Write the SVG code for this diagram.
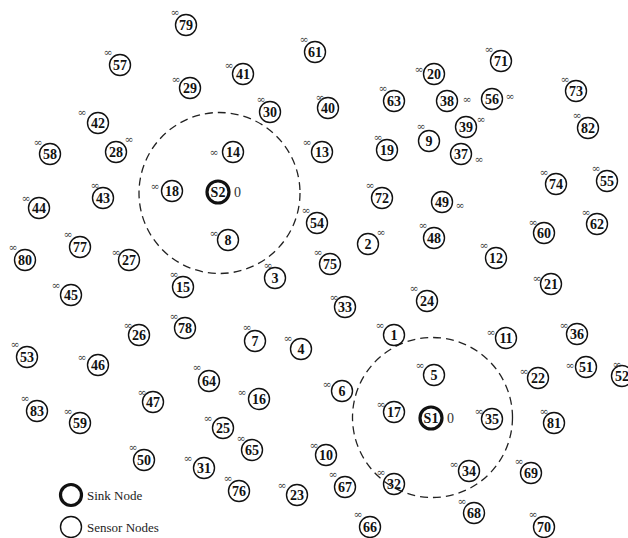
<svg xmlns="http://www.w3.org/2000/svg" width="628" height="538" viewBox="0 0 628 538">
<style>
.n circle{fill:none;stroke:#111;stroke-width:1.4}
.s circle{fill:none;stroke:#111;stroke-width:3.2}
.n text,.s text{font-family:"Liberation Serif","Times New Roman",serif;font-weight:bold;font-size:14px;fill:#111;text-anchor:middle}
text.i{font-family:"DejaVu Serif","DejaVu Sans",serif;font-weight:normal;font-size:11px;fill:#444;text-anchor:middle}
text.z{font-family:"Liberation Serif",serif;font-weight:normal;font-size:14px;fill:#333;text-anchor:start}
.range{fill:none;stroke:#222;stroke-width:1.3;stroke-dasharray:8 5}
.leg{font-family:"Liberation Serif","Times New Roman",serif;font-size:13px;fill:#222}
</style>
<rect width="628" height="538" fill="#fff"/>
<g id="connectors">
<circle class="range" cx="219.5" cy="193" r="80.5"/>
<circle class="range" cx="432.5" cy="417.5" r="80"/>
</g>
<g id="sinkS2" class="s" transform="translate(218,192)"><circle r="11"/><text y="5">S2</text><text class="z" x="16" y="5">0</text></g>
<g id="sinkS1" class="s" transform="translate(431,418)"><circle r="11"/><text y="5">S1</text><text class="z" x="16" y="5">0</text></g>
<g id="n79" class="n" transform="translate(186,25)"><circle r="10.5"/><text y="5">79</text><text class="i" x="-11" y="-9.5">∞</text></g>
<g id="n57" class="n" transform="translate(120,65)"><circle r="10.5"/><text y="5">57</text><text class="i" x="-12" y="-9.5">∞</text></g>
<g id="n61" class="n" transform="translate(315,52)"><circle r="10.5"/><text y="5">61</text><text class="i" x="-11" y="-9.5">∞</text></g>
<g id="n41" class="n" transform="translate(243,74)"><circle r="10.5"/><text y="5">41</text><text class="i" x="-14" y="-5.5">∞</text></g>
<g id="n29" class="n" transform="translate(190,88)"><circle r="10.5"/><text y="5">29</text><text class="i" x="-14" y="-5.5">∞</text></g>
<g id="n30" class="n" transform="translate(270,112)"><circle r="10.5"/><text y="5">30</text><text class="i" x="-9" y="-9.5">∞</text></g>
<g id="n40" class="n" transform="translate(328,108)"><circle r="10.5"/><text y="5">40</text><text class="i" x="-8" y="-7.5">∞</text></g>
<g id="n42" class="n" transform="translate(98,123)"><circle r="10.5"/><text y="5">42</text><text class="i" x="-16" y="-7.5">∞</text></g>
<g id="n28" class="n" transform="translate(116,152)"><circle r="10.5"/><text y="5">28</text><text class="i" x="13" y="-9.5">∞</text></g>
<g id="n58" class="n" transform="translate(50,154)"><circle r="10.5"/><text y="5">58</text><text class="i" x="-12" y="-8.5">∞</text></g>
<g id="n14" class="n" transform="translate(233,152)"><circle r="10.5"/><text y="5">14</text><text class="i" x="-19" y="3.5">∞</text></g>
<g id="n13" class="n" transform="translate(322,152)"><circle r="10.5"/><text y="5">13</text><text class="i" x="-15" y="-6.5">∞</text></g>
<g id="n63" class="n" transform="translate(394,101)"><circle r="10.5"/><text y="5">63</text><text class="i" x="-11" y="-9.5">∞</text></g>
<g id="n19" class="n" transform="translate(387,150)"><circle r="10.5"/><text y="5">19</text><text class="i" x="-9" y="-9.5">∞</text></g>
<g id="n20" class="n" transform="translate(434,74)"><circle r="10.5"/><text y="5">20</text><text class="i" x="-15" y="-1.5">∞</text></g>
<g id="n71" class="n" transform="translate(501,61)"><circle r="10.5"/><text y="5">71</text><text class="i" x="-12" y="-8.5">∞</text></g>
<g id="n38" class="n" transform="translate(447,101)"><circle r="10.5"/><text y="5">38</text><text class="i" x="20" y="1.5">∞</text></g>
<g id="n56" class="n" transform="translate(492,99)"><circle r="10.5"/><text y="5">56</text><text class="i" x="18" y="0.5">∞</text></g>
<g id="n73" class="n" transform="translate(576,91)"><circle r="10.5"/><text y="5">73</text><text class="i" x="-11" y="-8.5">∞</text></g>
<g id="n39" class="n" transform="translate(466,127)"><circle r="10.5"/><text y="5">39</text><text class="i" x="15" y="-4.5">∞</text></g>
<g id="n82" class="n" transform="translate(588,128)"><circle r="10.5"/><text y="5">82</text><text class="i" x="-11" y="-9.5">∞</text></g>
<g id="n9" class="n" transform="translate(429,141)"><circle r="10.5"/><text y="5">9</text><text class="i" x="-8" y="-11.5">∞</text></g>
<g id="n37" class="n" transform="translate(461,154)"><circle r="10.5"/><text y="5">37</text><text class="i" x="18" y="8.5">∞</text></g>
<g id="n18" class="n" transform="translate(172,191)"><circle r="10.5"/><text y="5">18</text><text class="i" x="-17" y="-1.5">∞</text></g>
<g id="n43" class="n" transform="translate(103,198)"><circle r="10.5"/><text y="5">43</text><text class="i" x="-8" y="-9.5">∞</text></g>
<g id="n44" class="n" transform="translate(39,208)"><circle r="10.5"/><text y="5">44</text><text class="i" x="-13" y="-6.5">∞</text></g>
<g id="n72" class="n" transform="translate(382,198)"><circle r="10.5"/><text y="5">72</text><text class="i" x="-12" y="-9.5">∞</text></g>
<g id="n54" class="n" transform="translate(317,223)"><circle r="10.5"/><text y="5">54</text><text class="i" x="-11" y="-9.5">∞</text></g>
<g id="n49" class="n" transform="translate(442,202)"><circle r="10.5"/><text y="5">49</text><text class="i" x="18" y="6.5">∞</text></g>
<g id="n74" class="n" transform="translate(556,184)"><circle r="10.5"/><text y="5">74</text><text class="i" x="-12" y="-8.5">∞</text></g>
<g id="n55" class="n" transform="translate(607,181)"><circle r="10.5"/><text y="5">55</text><text class="i" x="-11" y="-9.5">∞</text></g>
<g id="n48" class="n" transform="translate(434,238)"><circle r="10.5"/><text y="5">48</text><text class="i" x="-11" y="-9.5">∞</text></g>
<g id="n60" class="n" transform="translate(544,233)"><circle r="10.5"/><text y="5">60</text><text class="i" x="-11" y="-7.5">∞</text></g>
<g id="n62" class="n" transform="translate(597,224)"><circle r="10.5"/><text y="5">62</text><text class="i" x="-11" y="-8.5">∞</text></g>
<g id="n8" class="n" transform="translate(228,240)"><circle r="10.5"/><text y="5">8</text><text class="i" x="-14" y="-3.5">∞</text></g>
<g id="n2" class="n" transform="translate(368,244)"><circle r="10.5"/><text y="5">2</text><text class="i" x="13" y="-8.5">∞</text></g>
<g id="n77" class="n" transform="translate(80,247)"><circle r="10.5"/><text y="5">77</text><text class="i" x="-12" y="-9.5">∞</text></g>
<g id="n27" class="n" transform="translate(129,260)"><circle r="10.5"/><text y="5">27</text><text class="i" x="-13" y="-4.5">∞</text></g>
<g id="n80" class="n" transform="translate(25,260)"><circle r="10.5"/><text y="5">80</text><text class="i" x="-12" y="-9.5">∞</text></g>
<g id="n75" class="n" transform="translate(330,264)"><circle r="10.5"/><text y="5">75</text><text class="i" x="-12" y="-8.5">∞</text></g>
<g id="n12" class="n" transform="translate(496,258)"><circle r="10.5"/><text y="5">12</text><text class="i" x="-12" y="-9.5">∞</text></g>
<g id="n3" class="n" transform="translate(275,278)"><circle r="10.5"/><text y="5">3</text><text class="i" x="-7" y="-9.5">∞</text></g>
<g id="n15" class="n" transform="translate(183,287)"><circle r="10.5"/><text y="5">15</text><text class="i" x="-9" y="-9.5">∞</text></g>
<g id="n45" class="n" transform="translate(71,295)"><circle r="10.5"/><text y="5">45</text><text class="i" x="-15" y="-6.5">∞</text></g>
<g id="n21" class="n" transform="translate(551,284)"><circle r="10.5"/><text y="5">21</text><text class="i" x="-14" y="-2.5">∞</text></g>
<g id="n24" class="n" transform="translate(427,301)"><circle r="10.5"/><text y="5">24</text><text class="i" x="-13" y="-9.5">∞</text></g>
<g id="n33" class="n" transform="translate(345,307)"><circle r="10.5"/><text y="5">33</text><text class="i" x="-11" y="-6.5">∞</text></g>
<g id="n26" class="n" transform="translate(139,335)"><circle r="10.5"/><text y="5">26</text><text class="i" x="-11" y="-6.5">∞</text></g>
<g id="n78" class="n" transform="translate(185,328)"><circle r="10.5"/><text y="5">78</text><text class="i" x="-11" y="-8.5">∞</text></g>
<g id="n7" class="n" transform="translate(255,341)"><circle r="10.5"/><text y="5">7</text><text class="i" x="-8" y="-10.5">∞</text></g>
<g id="n4" class="n" transform="translate(301,349)"><circle r="10.5"/><text y="5">4</text><text class="i" x="-13" y="-7.5">∞</text></g>
<g id="n1" class="n" transform="translate(394,335)"><circle r="10.5"/><text y="5">1</text><text class="i" x="-14" y="-6.5">∞</text></g>
<g id="n11" class="n" transform="translate(506,338)"><circle r="10.5"/><text y="5">11</text><text class="i" x="-15" y="-2.5">∞</text></g>
<g id="n36" class="n" transform="translate(577,334)"><circle r="10.5"/><text y="5">36</text><text class="i" x="-13" y="-5.5">∞</text></g>
<g id="n53" class="n" transform="translate(27,357)"><circle r="10.5"/><text y="5">53</text><text class="i" x="-12" y="-9.5">∞</text></g>
<g id="n46" class="n" transform="translate(98,365)"><circle r="10.5"/><text y="5">46</text><text class="i" x="-16" y="-4.5">∞</text></g>
<g id="n5" class="n" transform="translate(434,375)"><circle r="10.5"/><text y="5">5</text><text class="i" x="-14" y="-6.5">∞</text></g>
<g id="n64" class="n" transform="translate(209,381)"><circle r="10.5"/><text y="5">64</text><text class="i" x="-12" y="-10.5">∞</text></g>
<g id="n6" class="n" transform="translate(342,391)"><circle r="10.5"/><text y="5">6</text><text class="i" x="-15" y="-3.5">∞</text></g>
<g id="n51" class="n" transform="translate(586,367)"><circle r="10.5"/><text y="5">51</text><text class="i" x="-16" y="1.5">∞</text></g>
<g id="n52" class="n" transform="translate(622,376)"><circle r="10.5"/><text y="5">52</text><text class="i" x="-5" y="-8.5">∞</text></g>
<g id="n22" class="n" transform="translate(538,378)"><circle r="10.5"/><text y="5">22</text><text class="i" x="-14" y="-3.5">∞</text></g>
<g id="n17" class="n" transform="translate(394,412)"><circle r="10.5"/><text y="5">17</text><text class="i" x="-13" y="-4.5">∞</text></g>
<g id="n35" class="n" transform="translate(492,419)"><circle r="10.5"/><text y="5">35</text><text class="i" x="-13" y="-4.5">∞</text></g>
<g id="n16" class="n" transform="translate(259,399)"><circle r="10.5"/><text y="5">16</text><text class="i" x="-17" y="-3.5">∞</text></g>
<g id="n47" class="n" transform="translate(153,402)"><circle r="10.5"/><text y="5">47</text><text class="i" x="-11" y="-6.5">∞</text></g>
<g id="n83" class="n" transform="translate(37,411)"><circle r="10.5"/><text y="5">83</text><text class="i" x="-12" y="-9.5">∞</text></g>
<g id="n81" class="n" transform="translate(554,423)"><circle r="10.5"/><text y="5">81</text><text class="i" x="-10" y="-8.5">∞</text></g>
<g id="n59" class="n" transform="translate(80,423)"><circle r="10.5"/><text y="5">59</text><text class="i" x="-12" y="-8.5">∞</text></g>
<g id="n25" class="n" transform="translate(223,428)"><circle r="10.5"/><text y="5">25</text><text class="i" x="-15" y="-6.5">∞</text></g>
<g id="n65" class="n" transform="translate(252,450)"><circle r="10.5"/><text y="5">65</text><text class="i" x="-11" y="-8.5">∞</text></g>
<g id="n10" class="n" transform="translate(326,455)"><circle r="10.5"/><text y="5">10</text><text class="i" x="-12" y="-6.5">∞</text></g>
<g id="n34" class="n" transform="translate(469,471)"><circle r="10.5"/><text y="5">34</text><text class="i" x="-15" y="-3.5">∞</text></g>
<g id="n69" class="n" transform="translate(531,473)"><circle r="10.5"/><text y="5">69</text><text class="i" x="-12" y="-8.5">∞</text></g>
<g id="n50" class="n" transform="translate(144,460)"><circle r="10.5"/><text y="5">50</text><text class="i" x="-11" y="-9.5">∞</text></g>
<g id="n31" class="n" transform="translate(204,468)"><circle r="10.5"/><text y="5">31</text><text class="i" x="-16" y="-6.5">∞</text></g>
<g id="n67" class="n" transform="translate(345,487)"><circle r="10.5"/><text y="5">67</text><text class="i" x="-12" y="-9.5">∞</text></g>
<g id="n32" class="n" transform="translate(394,484)"><circle r="10.5"/><text y="5">32</text><text class="i" x="-13" y="-8.5">∞</text></g>
<g id="n76" class="n" transform="translate(239,491)"><circle r="10.5"/><text y="5">76</text><text class="i" x="-11" y="-9.5">∞</text></g>
<g id="n23" class="n" transform="translate(297,495)"><circle r="10.5"/><text y="5">23</text><text class="i" x="-15" y="-6.5">∞</text></g>
<g id="n68" class="n" transform="translate(474,513)"><circle r="10.5"/><text y="5">68</text><text class="i" x="-12" y="-8.5">∞</text></g>
<g id="n66" class="n" transform="translate(370,527)"><circle r="10.5"/><text y="5">66</text><text class="i" x="-12" y="-9.5">∞</text></g>
<g id="n70" class="n" transform="translate(544,527)"><circle r="10.5"/><text y="5">70</text><text class="i" x="-11" y="-9.5">∞</text></g>
<g id="legend">
<g class="s"><circle cx="71" cy="495" r="10.5"/></g>
<text class="leg" x="87" y="500">Sink Node</text>
<g class="n"><circle cx="71" cy="527" r="10.5"/></g>
<text class="leg" x="87" y="532">Sensor Nodes</text>
</g>
</svg>
